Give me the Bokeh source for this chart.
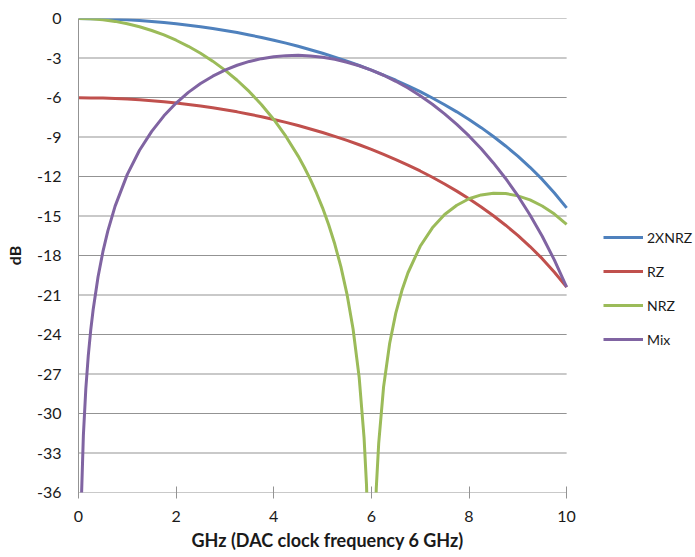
from bokeh.plotting import figure
from bokeh.models import Range1d, FixedTicker, Legend, LegendItem, Title
from bokeh.embed import file_html
from bokeh.resources import INLINE

# ---- data ----
freq_2x = [0, 0.25, 0.5, 0.75, 1, 1.25, 1.5, 1.75, 2, 2.25, 2.5, 2.75, 3, 3.25, 3.5, 3.75,
           4, 4.25, 4.5, 4.75, 5, 5.25, 5.5, 5.75, 6, 6.25, 6.5, 6.75, 7, 7.25, 7.5, 7.75,
           8, 8.25, 8.5, 8.75, 9, 9.25, 9.5, 9.75, 10]
db_2xnrz = [0, -0.01, -0.02, -0.06, -0.10, -0.16, -0.22, -0.31, -0.40, -0.51, -0.63, -0.76,
            -0.91, -1.07, -1.25, -1.44, -1.65, -1.87, -2.11, -2.37, -2.64, -2.93, -3.24, -3.57,
            -3.92, -4.30, -4.69, -5.11, -5.56, -6.04, -6.55, -7.09, -7.67, -8.29, -8.96, -9.68,
            -10.45, -11.30, -12.22, -13.25, -14.38]
db_rz = [-6.02, -6.03, -6.04, -6.08, -6.12, -6.18, -6.24, -6.33, -6.42, -6.53, -6.65, -6.78,
         -6.93, -7.09, -7.27, -7.46, -7.67, -7.89, -8.13, -8.39, -8.66, -8.95, -9.26, -9.59,
         -9.94, -10.32, -10.71, -11.13, -11.58, -12.06, -12.57, -13.11, -13.69, -14.31, -14.98,
         -15.70, -16.47, -17.32, -18.24, -19.27, -20.40]

freq_nrz = [0, 0.25, 0.5, 0.75, 1, 1.25, 1.5, 1.75, 2, 2.25, 2.5, 2.75, 3, 3.25, 3.5, 3.75,
            4, 4.25, 4.5, 4.625, 4.75, 4.875, 5, 5.125, 5.25, 5.375, 5.5, 5.625, 5.75, 5.85,
            5.9, 5.95, 6.05, 6.1, 6.15, 6.25, 6.375, 6.5, 6.625, 6.75, 7, 7.25, 7.5, 7.75,
            8, 8.25, 8.5, 8.75, 9, 9.25, 9.5, 9.75, 10]
db_nrz = [0, -0.02, -0.10, -0.22, -0.40, -0.63, -0.91, -1.25, -1.65, -2.11, -2.64, -3.24,
          -3.92, -4.69, -5.56, -6.55, -7.67, -8.96, -10.45, -11.30, -12.22, -13.25, -14.38,
          -15.66, -17.13, -18.85, -20.93, -23.58, -27.26, -31.83, -35.42, -41.51, -41.66,
          -35.71, -32.27, -27.98, -24.66, -22.38, -20.66, -19.31, -17.30, -15.90, -14.89,
          -14.18, -13.69, -13.40, -13.27, -13.29, -13.47, -13.78, -14.24, -14.85, -15.63]

freq_mix = [0.05, 0.1, 0.15, 0.2, 0.25, 0.3, 0.4, 0.5, 0.6, 0.75, 1, 1.25, 1.5, 1.75, 2,
            2.25, 2.5, 2.75, 3, 3.25, 3.5, 3.75, 4, 4.25, 4.5, 4.75, 5, 5.25, 5.5, 5.75, 6,
            6.25, 6.5, 6.75, 7, 7.25, 7.5, 7.75, 8, 8.25, 8.5, 8.75, 9, 9.25, 9.5, 9.75, 10]
db_mix = [-37.66, -31.64, -28.12, -25.63, -23.69, -22.12, -19.63, -17.71, -16.15, -14.25,
          -11.84, -10.01, -8.57, -7.39, -6.42, -5.61, -4.94, -4.38, -3.92, -3.55, -3.26,
          -3.05, -2.90, -2.82, -2.80, -2.84, -2.94, -3.10, -3.32, -3.59, -3.92, -4.31, -4.77,
          -5.28, -5.86, -6.51, -7.24, -8.04, -8.92, -9.89, -10.97, -12.15, -13.46, -14.92,
          -16.54, -18.35, -20.40]

x_ticks = [0, 2, 4, 6, 8, 10]
y_ticks = [-36, -33, -30, -27, -24, -21, -18, -15, -12, -9, -6, -3, 0]
series_names = ["2XNRZ", "RZ", "NRZ", "Mix"]
colors = ["#4F81BD", "#C0504D", "#9BBB59", "#8064A2"]

FONT = "Lato"
GRAY = "#939393"
TEXT = "#1a1a1a"

X_MIN, X_MAX = x_ticks[0], x_ticks[-1]
# the plotting frame also covers the legend area on the right (Excel-like layout)
X_VIEW_END = 12.64

p = figure(width=695, height=557, output_backend="svg", toolbar_location=None,
           x_range=Range1d(X_MIN, X_VIEW_END), y_range=Range1d(y_ticks[0], y_ticks[-1]),
           min_border_left=78, min_border_right=0, min_border_top=18, min_border_bottom=65)
p.outline_line_color = None
p.background_fill_color = "white"
p.grid.grid_line_color = None

# horizontal gridlines limited to the data range (the -36 line doubles as x-axis line)
p.segment(x0=[X_MIN] * len(y_ticks), x1=[X_MAX] * len(y_ticks), y0=y_ticks, y1=y_ticks,
          line_color=GRAY, line_width=1)

r1 = p.line(freq_2x, db_2xnrz, line_color=colors[0], line_width=3)
r2 = p.line(freq_2x, db_rz, line_color=colors[1], line_width=3)
r3 = p.line(freq_nrz, db_nrz, line_color=colors[2], line_width=3)
r4 = p.line(freq_mix, db_mix, line_color=colors[3], line_width=3)

# x axis
p.xaxis.ticker = FixedTicker(ticks=x_ticks)
p.xaxis.major_label_overrides = {t: str(t) for t in x_ticks}
p.xaxis.axis_line_color = None
p.xaxis.major_tick_line_color = GRAY
p.xaxis.major_tick_in = 6
p.xaxis.major_tick_out = 6
p.xaxis.minor_tick_line_color = None
p.xaxis.major_label_text_font = FONT
p.xaxis.major_label_text_font_size = "16px"
p.xaxis.major_label_text_color = TEXT
p.xaxis.major_label_standoff = 12

xtitle = Title(text="GHz (DAC clock frequency  6 GHz)", align="left", offset=113,
               text_font=FONT, text_font_size="18px", text_font_style="bold",
               text_color=TEXT, standoff=5)
p.add_layout(xtitle, "below")

# y axis
p.yaxis.ticker = FixedTicker(ticks=y_ticks)
p.yaxis.major_label_overrides = {t: str(t) for t in y_ticks}
p.yaxis.axis_line_color = GRAY
p.yaxis.major_tick_line_color = None
p.yaxis.major_tick_in = 0
p.yaxis.major_tick_out = 0
p.yaxis.minor_tick_line_color = None
p.yaxis.major_label_text_font = FONT
p.yaxis.major_label_text_font_size = "16px"
p.yaxis.major_label_text_color = TEXT
p.yaxis.major_label_standoff = 17
p.yaxis.axis_label = "dB"
p.yaxis.axis_label_text_font = FONT
p.yaxis.axis_label_text_font_size = "16px"
p.yaxis.axis_label_text_font_style = "bold"
p.yaxis.axis_label_text_color = TEXT
p.yaxis.axis_label_standoff = 10

legend = Legend(items=[LegendItem(label=series_names[0], renderers=[r1]),
                       LegendItem(label=series_names[1], renderers=[r2]),
                       LegendItem(label=series_names[2], renderers=[r3]),
                       LegendItem(label=series_names[3], renderers=[r4])],
                location=(525, 143))
legend.border_line_color = None
legend.background_fill_alpha = 0
legend.padding = 0
legend.margin = 0
legend.spacing = 14
legend.glyph_width = 40
legend.glyph_height = 20
legend.label_height = 20
legend.label_standoff = 4
legend.label_text_font = FONT
legend.label_text_font_size = "14px"
legend.label_text_color = TEXT
p.add_layout(legend, "center")

open("out.html", "w").write(file_html(p, INLINE))
